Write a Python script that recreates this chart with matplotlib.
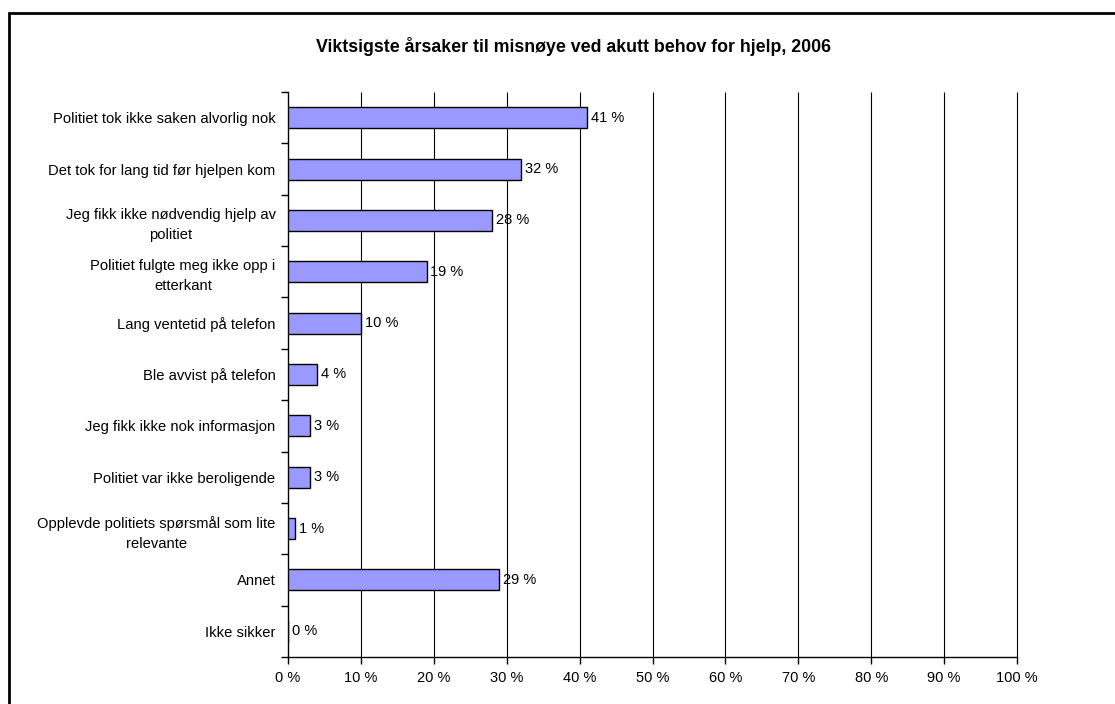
import numpy as np
import matplotlib
matplotlib.use("Agg")
import matplotlib.pyplot as plt
from matplotlib.patches import Rectangle

plt.rcParams['font.family'] = ['Liberation Sans', 'DejaVu Sans']

# Årsaker og andel (%)
kategorier = ['Politiet tok ikke saken alvorlig nok',
              'Det tok for lang tid før hjelpen kom',
              'Jeg fikk ikke nødvendig hjelp av\npolitiet',
              'Politiet fulgte meg ikke opp i\netterkant',
              'Lang ventetid på telefon',
              'Ble avvist på telefon',
              'Jeg fikk ikke nok informasjon',
              'Politiet var ikke beroligende',
              'Opplevde politiets spørsmål som lite\nrelevante',
              'Annet',
              'Ikke sikker']
andel = [41, 32, 28, 19, 10, 4, 3, 3, 1, 29, 0]
xticks = list(range(0, 101, 10))

W, H = 1115, 704
fig = plt.figure(figsize=(W / 100, H / 100), dpi=100)
ax = fig.add_axes([288 / W, 1 - 657 / H, (1017 - 288) / W, (657 - 92) / H])

y = np.arange(len(kategorier))
ax.barh(y, andel, height=0.41, color='#9999FF', edgecolor='black', linewidth=1, zorder=3)
for yi, v in zip(y, andel):
    ax.text(v + 0.5, yi, f'{v} %', va='center', ha='left', fontsize=10.5, zorder=4)

ax.set_xlim(0, 100)
ax.set_ylim(len(kategorier) - 0.5, -0.5)
ax.set_xticks(xticks)
ax.set_xticklabels([f'{t} %' for t in xticks], fontsize=10.5)
ax.set_yticks(y)
ax.set_yticklabels(kategorier, fontsize=10.6, ha='right', multialignment='center',
                   linespacing=1.55)
ax.tick_params(axis='y', length=0, pad=9)
ax.set_yticks(np.arange(-0.5, len(kategorier), 1), minor=True)
ax.tick_params(axis='y', which='minor', length=5, width=1, direction='out')
ax.tick_params(axis='x', length=5, width=1, direction='out', pad=5)
ax.vlines(xticks[1:], -0.5, len(kategorier) - 0.5, color='black', linewidth=0.8,
          zorder=0, clip_on=False)
for s in ['top', 'right']:
    ax.spines[s].set_visible(False)
ax.spines['left'].set_linewidth(1)
ax.spines['bottom'].set_linewidth(1)

fig.text(573 / W, 1 - 47 / H, 'Viktsigste årsaker til misnøye ved akutt behov for hjelp, 2006',
         ha='center', va='center', fontsize=12.8, fontweight='bold')

# ramme rundt figuren
fig.add_artist(Rectangle((8.5 / W, -0.1), 1.2, 1 - 12.5 / H + 0.1, transform=fig.transFigure,
                         fill=False, edgecolor='black', linewidth=2))

fig.savefig('out.png', dpi=100)
